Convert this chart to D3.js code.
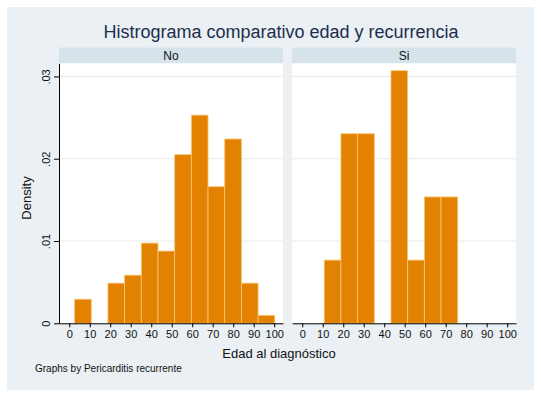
<!DOCTYPE html>
<html>
<head>
<meta charset="utf-8">
<script src="https://cdn.jsdelivr.net/npm/d3@7"></script>
<style>
  body { margin: 0; background: #fff; }
  svg { display: block; font-family: "Liberation Sans", Arial, sans-serif; }
</style>
</head>
<body>
<svg id="chart" width="541" height="397"></svg>
<script>
// histogram bins shared by both panels
const binStart = 2.6;
const binWidth = 8.14;
const groups = ["No", "Si"];
const densityNo = [0.00293, 0, 0.00488, 0.00585, 0.00975, 0.00878, 0.0205, 0.0253, 0.0166, 0.0224, 0.00488, 0.000975];
const densitySi = [0, 0.00768, 0.02304, 0.02304, 0, 0.0307, 0.00768, 0.01536, 0.01536, 0, 0, 0];
const xTicks = [0, 10, 20, 30, 40, 50, 60, 70, 80, 90, 100];
const yTicks = [0, 0.01, 0.02, 0.03];
const yTickLabels = ["0", ".01", ".02", ".03"];

const svg = d3.select("#chart");

// outer graph region
svg.append("rect")
  .attr("x", 7).attr("y", 7)
  .attr("width", 527).attr("height", 383)
  .attr("fill", "#eaf0f3");

svg.append("text")
  .attr("x", 281).attr("y", 38)
  .attr("text-anchor", "middle")
  .attr("font-size", "18px")
  .attr("fill", "#1c2e4c")
  .text("Histrograma comparativo edad y recurrencia");

const panelW = 224, plotTop = 63.3, plotBottom = 323.3;
const panelX = [59, 292];

const x = d3.scaleLinear().domain([-5.0, 104.3]).range([0, panelW]);
const y = d3.scaleLinear().domain([0, 0.0316]).range([plotBottom, plotTop]);

const series = [densityNo, densitySi];

groups.forEach((g, gi) => {
  const px = panelX[gi];
  const panel = svg.append("g").attr("transform", "translate(" + px + ",0)");

  // header strip
  panel.append("rect")
    .attr("x", 0).attr("y", 47.5)
    .attr("width", panelW).attr("height", plotTop - 47.5)
    .attr("fill", "#d7e3ea");
  panel.append("text")
    .attr("x", panelW / 2).attr("y", 60)
    .attr("text-anchor", "middle")
    .attr("font-size", "12px")
    .attr("fill", "#111")
    .text(g);

  // plot region
  panel.append("rect")
    .attr("x", 0).attr("y", plotTop)
    .attr("width", panelW).attr("height", plotBottom - plotTop)
    .attr("fill", "#fff");

  panel.selectAll("line.grid")
    .data(yTicks.slice(1))
    .enter().append("line")
    .attr("class", "grid")
    .attr("x1", 0).attr("x2", panelW)
    .attr("y1", d => y(d)).attr("y2", d => y(d))
    .attr("stroke", "#eaeaea")
    .attr("stroke-width", 1);

  const bins = series[gi].map((d, i) => ({ x0: binStart + i * binWidth, x1: binStart + (i + 1) * binWidth, d: d }));

  panel.selectAll("rect.bar")
    .data(bins.filter(b => b.d > 0))
    .enter().append("rect")
    .attr("class", "bar")
    .attr("x", b => x(b.x0))
    .attr("width", b => x(b.x1) - x(b.x0))
    .attr("y", b => y(b.d))
    .attr("height", b => y(0) - y(b.d))
    .attr("fill", "#e38200")
    .attr("stroke", "#f6c77c")
    .attr("stroke-width", 0.8);

  // x axis
  const xAxis = panel.append("g")
    .attr("transform", "translate(0," + plotBottom + ")")
    .call(d3.axisBottom(x).tickValues(xTicks).tickSize(4).tickPadding(3).tickSizeOuter(0));
  xAxis.select(".domain").attr("stroke", "#000");
  xAxis.selectAll("text").attr("font-size", "11px").attr("fill", "#111")
    .attr("font-family", "'Liberation Sans', Arial, sans-serif");
});

// y axis on the first panel only
const yAxis = svg.append("g")
  .attr("transform", "translate(" + panelX[0] + ",0)")
  .call(d3.axisLeft(y).tickValues(yTicks).tickFormat((d, i) => yTickLabels[i]).tickSize(5).tickSizeOuter(0));
yAxis.select(".domain").attr("stroke", "#000");
yAxis.selectAll("text")
  .attr("font-size", "11px").attr("fill", "#111")
  .attr("font-family", "'Liberation Sans', Arial, sans-serif")
  .attr("text-anchor", "middle")
  .attr("x", 0).attr("dy", 0)
  .attr("transform", "translate(-9,0) rotate(-90)");

svg.append("text")
  .attr("transform", "translate(31,198) rotate(-90)")
  .attr("text-anchor", "middle")
  .attr("font-size", "13px")
  .attr("fill", "#111")
  .text("Density");

svg.append("text")
  .attr("x", 279).attr("y", 358)
  .attr("text-anchor", "middle")
  .attr("font-size", "13px")
  .attr("fill", "#111")
  .text("Edad al diagnóstico");

svg.append("text")
  .attr("x", 35).attr("y", 372)
  .attr("font-size", "10px")
  .attr("fill", "#111")
  .text("Graphs by Pericarditis recurrente");
</script>
</body>
</html>
